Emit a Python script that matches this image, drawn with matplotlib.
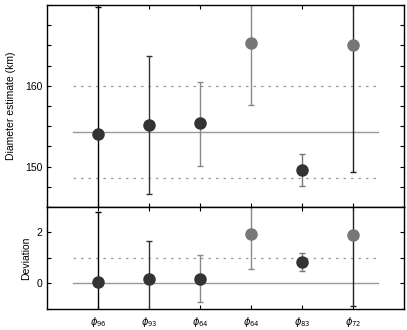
#!/usr/bin/python
# diameter estimates and deviations per phase

import matplotlib
matplotlib.use('Agg')
import matplotlib.pyplot as plt
from matplotlib.ticker import MultipleLocator, FixedLocator

labels = [r'$\phi_{96}$', r'$\phi_{93}$', r'$\phi_{64}$', r'$\phi_{64}$', r'$\phi_{83}$', r'$\phi_{72}$']
pos = [1, 2, 3, 4, 5, 6]

# diameter (km) with lower / upper error bar ends
diam = [154.0, 155.1, 155.35, 165.3, 149.55, 165.1]
diam_lo = [144.0, 146.6, 150.1, 157.6, 147.6, 149.3]
diam_hi = [169.7, 163.7, 160.5, 171.0, 151.6, 171.0]
diam_mean = 154.3
diam_band = [148.6, 160.0]

# deviation
dev = [0.05, 0.16, 0.19, 1.92, 0.84, 1.9]
dev_lo = [-1.5, -1.5, -0.74, 0.58, 0.49, -0.9]
dev_hi = [2.8, 1.66, 1.1, 3.5, 1.2, 3.5]
dev_band = [1.0]

pt_col = ['#333333', '#333333', '#333333', '#777777', '#333333', '#777777']
bar_col = ['#000000', '#333333', '#888888', '#888888', '#777777', '#222222']

plt.rcParams['font.family'] = ['Liberation Sans', 'DejaVu Sans']
plt.rcParams['mathtext.fontset'] = 'dejavusans'

fig = plt.figure(figsize=(4.07, 3.30), dpi=100)
ax1 = fig.add_axes([0.1155, 0.373, 0.877, 0.612])
ax2 = fig.add_axes([0.1155, 0.0636, 0.877, 0.3094])

def draw(ax, vals, lo, hi, mean, band):
	ax.plot([0.5, 6.5], [mean, mean], color='#999999', lw=1.0, zorder=1)
	for b in band:
		ax.plot([0.5, 6.5], [b, b], color='#999999', lw=0.9, ls=(0, (2, 4)), zorder=1)
	for i in range(len(pos)):
		ax.errorbar(pos[i], vals[i], yerr=[[vals[i] - lo[i]], [hi[i] - vals[i]]],
			fmt='o', ms=8, mfc=pt_col[i], mec=pt_col[i], ecolor=bar_col[i],
			elinewidth=1.0, capsize=2, capthick=1.0, zorder=2)
	ax.set_xlim(0, 7)
	ax.xaxis.set_major_locator(FixedLocator(pos))
	ax.tick_params(which='both', direction='in', top=True, right=True, length=3, width=0.8, labelsize=7.5)
	for s in ax.spines.values():
		s.set_linewidth(1.0)

draw(ax1, diam, diam_lo, diam_hi, diam_mean, diam_band)
ax1.set_ylim(145, 170)
ax1.yaxis.set_major_locator(FixedLocator([150, 160]))
ax1.yaxis.set_minor_locator(MultipleLocator(2.5))
ax1.set_xticklabels([])
ax1.set_ylabel('Diameter estimate (km)', fontsize=7.5, labelpad=6)

draw(ax2, dev, dev_lo, dev_hi, 0.0, dev_band)
ax2.set_ylim(-1, 3)
ax2.yaxis.set_major_locator(FixedLocator([0, 2]))
ax2.yaxis.set_minor_locator(MultipleLocator(1))
ax2.set_xticklabels(labels)
ax2.tick_params(axis='x', pad=4, labelsize=7)
ax2.set_ylabel('Deviation', fontsize=7.5)

fig.align_ylabels([ax1, ax2])
fig.savefig('out.png', dpi=100)
